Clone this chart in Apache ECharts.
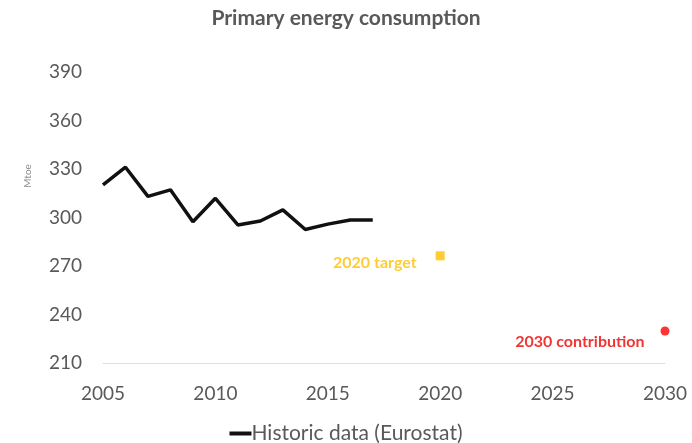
<!DOCTYPE html>
<html>
<head>
<meta charset="utf-8">
<script src="https://cdn.jsdelivr.net/npm/echarts@6/dist/echarts.min.js"></script>
<style>
html,body{margin:0;padding:0;background:#fff;}
#main{width:692px;height:443px;}
</style>
</head>
<body>
<div id="main"></div>
<script>
var years = [2005,2006,2007,2008,2009,2010,2011,2012,2013,2014,2015,2016,2017];
var historic = [320.2,331.1,313.1,317.1,297.4,311.9,295.4,297.8,304.7,292.6,295.9,298.4,298.4];
var target2020 = [2020, 276.3];
var contrib2030 = [2030, 229.8];
var xTicks = [2005,2010,2015,2020,2025,2030];
var yTicks = [210,240,270,300,330,360,390];

var histData = [];
for (var i = 0; i < years.length; i++) {
	histData.push([years[i], historic[i]]);
}

var chart = echarts.init(document.getElementById('main'));
var font = 'Lato';
var option = {
	animation: false,
	title: {
		text: 'Primary energy consumption',
		left: 'center',
		top: 3,
		textStyle: {fontFamily: font, fontSize: 21, fontWeight: 'bold', color: '#595959'}
	},
	grid: {left: 103, right: 27, top: 72, bottom: 80},
	legend: {
		data: ['Historic data (Eurostat)'],
		top: 418,
		left: 'center',
		icon: 'rect',
		itemWidth: 22,
		itemHeight: 4,
		itemGap: 0,
		textStyle: {fontFamily: font, fontSize: 21, color: '#595959', padding: [0,0,0,-5]}
	},
	graphic: [{
		type: 'text',
		x: 28, y: 176,
		rotation: Math.PI / 2,
		style: {text: 'Mtoe', fontFamily: font, fontSize: 10, fill: '#8c8c8c', align: 'center', verticalAlign: 'middle'}
	}],
	xAxis: {
		type: 'value',
		min: xTicks[0], max: xTicks[xTicks.length - 1], interval: 5,
		axisLine: {lineStyle: {color: '#e0e0e0', width: 1}},
		axisTick: {show: false},
		splitLine: {show: false},
		axisLabel: {fontFamily: font, fontSize: 19, color: '#595959', margin: 21,
			formatter: function (v) { return String(v); }}
	},
	yAxis: {
		type: 'value',
		min: yTicks[0], max: yTicks[yTicks.length - 1], interval: 30,
		axisLine: {show: false},
		axisTick: {show: false},
		splitLine: {show: false},
		axisLabel: {fontFamily: font, fontSize: 19, color: '#595959', margin: 21}
	},
	series: [{
		name: 'Historic data (Eurostat)',
		type: 'line',
		data: histData,
		showSymbol: false,
		itemStyle: {color: '#111'},
		lineStyle: {color: '#111', width: 3.5}
	}, {
		name: '2020 target',
		type: 'scatter',
		symbol: 'rect',
		symbolSize: 9,
		data: [target2020],
		itemStyle: {color: '#ffc000'},
		label: {
			show: true, position: 'left', distance: 19, offset: [0, 7],
			formatter: '2020 target',
			fontFamily: font, fontSize: 16, fontWeight: 'bold', color: '#ffc000'
		}
	}, {
		name: '2030 contribution',
		type: 'scatter',
		symbol: 'circle',
		symbolSize: 9,
		data: [contrib2030],
		itemStyle: {color: '#ff0000'},
		label: {
			show: true, position: 'left', distance: 16, offset: [0, 11],
			formatter: '2030 contribution',
			fontFamily: font, fontSize: 16, fontWeight: 'bold', color: '#ee0000'
		}
	}]
};
chart.setOption(option);
</script>
</body>
</html>
